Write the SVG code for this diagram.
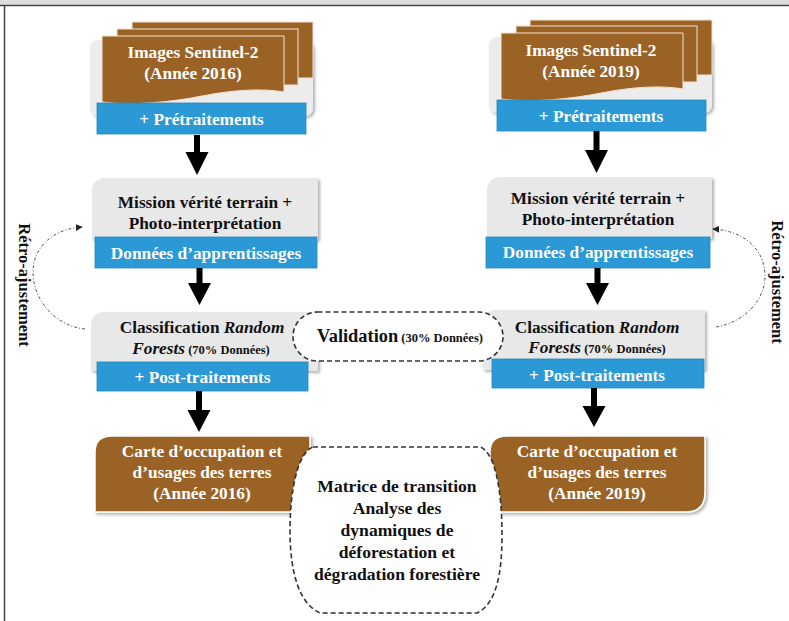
<svg xmlns="http://www.w3.org/2000/svg" width="789" height="621" viewBox="0 0 789 621">
<defs>
<style>
.t{font-family:"Liberation Serif","Times New Roman",serif;font-weight:bold;font-size:17.3px;text-anchor:middle}
.w{fill:#ffffff}
.k{fill:#111111}
.sm{font-size:12.5px}
.it{font-style:italic}
.brown{fill:#9b6226}
.sheet{fill:#9b6226;stroke:#f2e3cf;stroke-width:1}
.blue{fill:#2a99d6;stroke:#2386bf;stroke-width:0.8}
.gray{fill:#e8e8e8}
.arrow{fill:#000000}
.dot{fill:none;stroke:#555555;stroke-width:1;stroke-dasharray:3 2 1 2}
.dash{fill:#ffffff;stroke:#333333;stroke-width:1.6;stroke-dasharray:5 3}
</style>
<filter id="sh" x="-10%" y="-15%" width="125%" height="140%">
<feDropShadow dx="2" dy="2" stdDeviation="1.5" flood-color="#000" flood-opacity="0.3"/>
</filter>
<marker id="ah" viewBox="0 0 10 10" refX="9" refY="5" markerWidth="7" markerHeight="7" orient="auto" markerUnits="userSpaceOnUse">
<path d="M0,0 L10,5 L0,10 Z" fill="#222"/>
</marker>
</defs>

<rect x="0" y="0" width="789" height="621" fill="#ffffff"/>
<rect x="0" y="0" width="789" height="5" fill="#dcdcdc"/>
<line x1="0" y1="5.5" x2="789" y2="5.5" stroke="#444" stroke-width="1.5"/>
<line x1="4.5" y1="5" x2="4.5" y2="621" stroke="#444" stroke-width="1.5"/>

<!-- 2016 images -->
<g id="n-images-2016">
<rect x="90" y="40" width="223" height="76" rx="8" fill="#ececec" filter="url(#sh)"/>
<rect class="sheet" x="132" y="22" width="181" height="56"/>
<rect class="sheet" x="117" y="29" width="181" height="56"/>
<path class="sheet" d="M102,36 H284 V92 C262,88 232,90 202,96 C172,102 132,106 102,102 Z"/>
<text class="t w" x="193" y="58">Images Sentinel-2</text>
<text class="t w" x="193" y="79">(Année 2016)</text>
<rect class="blue" x="97" y="103" width="209" height="31"/>
<text class="t w" x="201.5" y="125">+ Prétraitements</text>
</g>

<!-- 2019 images -->
<g id="n-images-2019">
<rect x="489" y="37" width="223" height="76" rx="8" fill="#ececec" filter="url(#sh)"/>
<rect class="sheet" x="530" y="20" width="182" height="55"/>
<rect class="sheet" x="516" y="26" width="181" height="56"/>
<path class="sheet" d="M501,33 H683 V89 C661,85 631,87 601,93 C571,99 531,103 501,99 Z"/>
<text class="t w" x="591" y="56">Images Sentinel-2</text>
<text class="t w" x="591" y="77">(Année 2019)</text>
<rect class="blue" x="497" y="100" width="209" height="31"/>
<text class="t w" x="601" y="122">+ Prétraitements</text>
</g>

<!-- Mission 2016 -->
<g id="n-mission-2016">
<path class="gray" filter="url(#sh)" d="M92,192 Q92,178 106,178 H318 V240 H92 Z"/>
<text class="t k" x="205" y="208">Mission vérité terrain +</text>
<text class="t k" x="205" y="229">Photo-interprétation</text>
<rect class="blue" x="95" y="237" width="222" height="31"/>
<text class="t w" x="206" y="259">Données d’apprentissages</text>
</g>

<!-- Mission 2019 -->
<g id="n-mission-2019">
<path class="gray" filter="url(#sh)" d="M487,191 Q487,177 501,177 H712 V239 H487 Z"/>
<text class="t k" x="598" y="204">Mission vérité terrain +</text>
<text class="t k" x="598" y="225">Photo-interprétation</text>
<rect class="blue" x="486" y="237" width="224" height="31"/>
<text class="t w" x="598" y="258">Données d’apprentissages</text>
</g>

<!-- Classification 2016 -->
<g id="n-classif-2016">
<path class="gray" filter="url(#sh)" d="M91,326 Q91,312 105,312 H318 V371 H91 Z"/>
<text class="t k" x="202" y="333">Classification <tspan class="it">Random</tspan></text>
<text class="t k" x="201" y="354"><tspan class="it">Forests</tspan><tspan class="sm"> (70% Données)</tspan></text>
<rect class="blue" x="97" y="362" width="211" height="29"/>
<text class="t w" x="202.5" y="383">+ Post-traitements</text>
</g>

<!-- Classification 2019 -->
<g id="n-classif-2019">
<path class="gray" filter="url(#sh)" d="M483,324 Q483,310 497,310 H705 V370 H483 Z"/>
<text class="t k" x="597" y="333">Classification <tspan class="it">Random</tspan></text>
<text class="t k" x="597" y="353"><tspan class="it">Forests</tspan><tspan class="sm"> (70% Données)</tspan></text>
<rect class="blue" x="492" y="359" width="212" height="29"/>
<text class="t w" x="597" y="381">+ Post-traitements</text>
</g>

<!-- Carte 2016 -->
<g id="n-carte-2016">
<path class="brown" stroke="#ffffff" stroke-width="1.5" filter="url(#sh)" d="M95,452 Q95,436 112,436 H310 V512 H95 Z"/>
<text class="t w" x="202" y="457">Carte d’occupation et</text>
<text class="t w" x="202" y="478">d’usages des terres</text>
<text class="t w" x="202" y="499">(Année 2016)</text>
</g>

<!-- Carte 2019 -->
<g id="n-carte-2019">
<path class="brown" stroke="#ffffff" stroke-width="1.5" filter="url(#sh)" d="M490,452 Q490,436 507,436 H705 V492 Q705,512 686,512 H490 Z"/>
<text class="t w" x="597" y="457">Carte d’occupation et</text>
<text class="t w" x="597" y="478">d’usages des terres</text>
<text class="t w" x="597" y="499">(Année 2019)</text>
</g>

<!-- Validation -->
<g id="n-validation">
<rect class="dash" x="293" y="312" width="210" height="49" rx="24.5"/>
<text class="t k" x="400" y="342"><tspan style="font-size:18.4px">Validation</tspan><tspan class="sm"> (30% Données)</tspan></text>
</g>

<!-- Matrice -->
<g id="n-matrice">
<path class="dash" d="M313,447 H480 C495,452 502,490 502,535 C502,575 496,604 477,613 H320 C300,604 290,575 290,530 C290,490 298,452 313,447 Z"/>
<text class="t k" style="font-size:17.6px" x="397" y="492">Matrice de transition</text>
<text class="t k" style="font-size:17.6px" x="397" y="514">Analyse des</text>
<text class="t k" style="font-size:17.6px" x="397" y="536">dynamiques de</text>
<text class="t k" style="font-size:17.6px" x="397" y="558">déforestation et</text>
<text class="t k" style="font-size:17.6px" x="397" y="580">dégradation forestière</text>
</g>

<!-- Retro labels -->
<g id="n-retro-left">
<text class="t k" style="font-size:16.5px" transform="translate(19,285) rotate(90)" x="0" y="0">Rétro-ajustement</text>
</g>
<g id="n-retro-right">
<text class="t k" style="font-size:16.5px" transform="translate(772,282) rotate(90)" x="0" y="0">Rétro-ajustement</text>
</g>

<!-- Connectors -->
<g id="connectors">
<polygon class="arrow" points="194,135 200,135 200,152 208.5,152 197,175 185.5,152 194,152"/>
<polygon class="arrow" points="196.5,268 202.5,268 202.5,283 211,283 199.5,305 188,283 196.5,283"/>
<polygon class="arrow" points="196,391 202,391 202,410 210.5,410 199,432 187.5,410 196,410"/>
<polygon class="arrow" points="593.5,131 599.5,131 599.5,150 608,150 596.5,173 585,150 593.5,150"/>
<polygon class="arrow" points="594.5,268 600.5,268 600.5,283 609,283 597.5,305 586,283 594.5,283"/>
<polygon class="arrow" points="591,388 597,388 597,406 605.5,406 594,427 582.5,406 591,406"/>
<path class="dot" d="M85,329 C55,326 33,300 33,272 C33,248 52,229 82,227" marker-end="url(#ah)"/>
<path class="dot" d="M716,327 C745,322 765,300 765,276 C765,250 745,231 713,229" marker-end="url(#ah)"/>
</g>
</svg>
